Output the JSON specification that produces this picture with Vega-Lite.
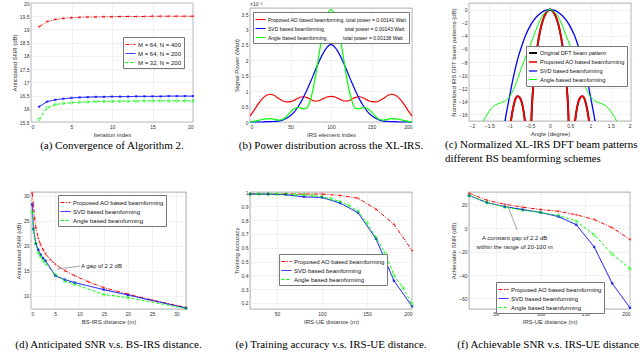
{
"$schema": "https://vega.github.io/schema/vega-lite/v6.json",
"padding": {"left": 0, "top": 0, "right": 0, "bottom": 0},
"background": "white",
"config": {
 "font": "Liberation Sans",
 "view": {"stroke": "#707070", "strokeWidth": 0.6},
 "axis": {"labelFont": "Liberation Sans", "labelFontSize": 5, "labelColor": "#333", "titleFont": "Liberation Sans", "titleFontSize": 6, "titleFontWeight": "normal", "titleColor": "#333", "domain": false, "ticks": false, "labelPadding": 2, "titlePadding": 2, "gridColor": "#e2e2e2", "gridWidth": 0.5},
 "legend": {"labelFont": "Liberation Sans", "labelFontSize": 6, "labelColor": "#111", "fillColor": "white", "strokeColor": "#777", "padding": 2, "rowPadding": 0, "symbolType": "stroke", "symbolSize": 100, "symbolStrokeWidth": 1, "labelOffset": 2},
 "title": {"font": "Liberation Serif", "fontSize": 11, "fontWeight": "normal", "color": "#000", "orient": "bottom", "anchor": "middle", "frame": "group", "offset": 3}
},
"title": {"text": "Fig. 2. Convergence of Algorithm 2, and performance comparison between the proposed AO based beamforming, the SVD based beamforming, and the angle based beamforming.", "anchor": "start", "frame": "group", "offset": 12, "dx": -31, "fontSize": 13},
"columns": 3,
"bounds": "flush",
"spacing": {"row": 70, "column": 57},
"resolve": {"scale": {"color": "independent", "strokeDash": "independent", "strokeWidth": "independent"}, "legend": {"color": "independent", "strokeDash": "independent"}},
"concat": [
{
 "width": 162, "height": 119,
 "title": {"text": "(a) Convergence of Algorithm 2."},
 "data": {"values": [
  {"s":"M = 64, N = 400","x":1,"y":19.10},{"s":"M = 64, N = 400","x":2,"y":19.30},{"s":"M = 64, N = 400","x":3,"y":19.38},{"s":"M = 64, N = 400","x":4,"y":19.42},{"s":"M = 64, N = 400","x":5,"y":19.44},{"s":"M = 64, N = 400","x":6,"y":19.46},{"s":"M = 64, N = 400","x":7,"y":19.47},{"s":"M = 64, N = 400","x":8,"y":19.47},{"s":"M = 64, N = 400","x":9,"y":19.48},{"s":"M = 64, N = 400","x":10,"y":19.48},{"s":"M = 64, N = 400","x":11,"y":19.49},{"s":"M = 64, N = 400","x":12,"y":19.49},{"s":"M = 64, N = 400","x":13,"y":19.49},{"s":"M = 64, N = 400","x":14,"y":19.49},{"s":"M = 64, N = 400","x":15,"y":19.5},{"s":"M = 64, N = 400","x":16,"y":19.5},{"s":"M = 64, N = 400","x":17,"y":19.5},{"s":"M = 64, N = 400","x":18,"y":19.5},{"s":"M = 64, N = 400","x":19,"y":19.5},{"s":"M = 64, N = 400","x":20,"y":19.5},
  {"s":"M = 64, N = 200","x":1,"y":16.08},{"s":"M = 64, N = 200","x":2,"y":16.27},{"s":"M = 64, N = 200","x":3,"y":16.34},{"s":"M = 64, N = 200","x":4,"y":16.38},{"s":"M = 64, N = 200","x":5,"y":16.41},{"s":"M = 64, N = 200","x":6,"y":16.43},{"s":"M = 64, N = 200","x":7,"y":16.44},{"s":"M = 64, N = 200","x":8,"y":16.45},{"s":"M = 64, N = 200","x":9,"y":16.45},{"s":"M = 64, N = 200","x":10,"y":16.46},{"s":"M = 64, N = 200","x":11,"y":16.46},{"s":"M = 64, N = 200","x":12,"y":16.46},{"s":"M = 64, N = 200","x":13,"y":16.47},{"s":"M = 64, N = 200","x":14,"y":16.47},{"s":"M = 64, N = 200","x":15,"y":16.47},{"s":"M = 64, N = 200","x":16,"y":16.47},{"s":"M = 64, N = 200","x":17,"y":16.48},{"s":"M = 64, N = 200","x":18,"y":16.48},{"s":"M = 64, N = 200","x":19,"y":16.48},{"s":"M = 64, N = 200","x":20,"y":16.48},
  {"s":"M = 32, N = 200","x":1,"y":15.60},{"s":"M = 32, N = 200","x":2,"y":16.04},{"s":"M = 32, N = 200","x":3,"y":16.16},{"s":"M = 32, N = 200","x":4,"y":16.20},{"s":"M = 32, N = 200","x":5,"y":16.23},{"s":"M = 32, N = 200","x":6,"y":16.25},{"s":"M = 32, N = 200","x":7,"y":16.26},{"s":"M = 32, N = 200","x":8,"y":16.27},{"s":"M = 32, N = 200","x":9,"y":16.28},{"s":"M = 32, N = 200","x":10,"y":16.28},{"s":"M = 32, N = 200","x":11,"y":16.29},{"s":"M = 32, N = 200","x":12,"y":16.29},{"s":"M = 32, N = 200","x":13,"y":16.29},{"s":"M = 32, N = 200","x":14,"y":16.3},{"s":"M = 32, N = 200","x":15,"y":16.3},{"s":"M = 32, N = 200","x":16,"y":16.3},{"s":"M = 32, N = 200","x":17,"y":16.3},{"s":"M = 32, N = 200","x":18,"y":16.3},{"s":"M = 32, N = 200","x":19,"y":16.3},{"s":"M = 32, N = 200","x":20,"y":16.3}
 ]},
 "encoding": {
  "x": {"field": "x", "type": "quantitative", "scale": {"domain": [0, 20], "nice": false}, "axis": {"title": "Iteration index", "values": [0,5,10,15,20]}},
  "y": {"field": "y", "type": "quantitative", "scale": {"domain": [15.5, 20], "nice": false, "zero": false}, "axis": {"title": "Anticipated SNR (dB)", "values": [15.5,16,16.5,17,17.5,18,18.5,19,19.5,20], "format": "~g"}}
 },
 "layer": [
  {"mark": {"type": "line", "strokeWidth": 1}, "encoding": {
    "color": {"field": "s", "type": "nominal", "scale": {"domain": ["M = 64, N = 400","M = 64, N = 200","M = 32, N = 200"], "range": ["#ff0000","#0000ff","#00ff00"]}, "legend": {"title": null, "orient": "none", "legendX": 92, "legendY": 34}},
    "strokeDash": {"field": "s", "type": "nominal", "scale": {"domain": ["M = 64, N = 400","M = 64, N = 200","M = 32, N = 200"], "range": [[4,1.5,1,1.5],[1,0],[3,2]]}}}},
  {"transform": [{"filter": "datum.s == 'M = 64, N = 400'"}], "mark": {"type": "point", "shape": "M-1,0L1,0M0,-1L0,1", "color": "#ff0000", "size": 8, "strokeWidth": 0.7}},
  {"transform": [{"filter": "datum.s == 'M = 64, N = 200'"}], "mark": {"type": "square", "color": "#0000ff", "size": 5}},
  {"transform": [{"filter": "datum.s == 'M = 32, N = 200'"}], "mark": {"type": "point", "shape": "circle", "color": "#00ff00", "size": 7, "strokeWidth": 0.8}}
 ]
},
{
 "bounds": "flush",
 "spacing": 0,
 "vconcat": [
  {"width": 162, "height": 5, "view": {"stroke": null}, "data": {"values": [{}]}, "mark": {"type": "point", "opacity": 0}, "encoding": {}},
  {
   "width": 162, "height": 114,
   "title": {"text": "(b) Power distribution across the XL-IRS."},
   "layer": [
    {"data": {"values": [
    {"s":"AO","x":0,"y":0.20},{"s":"AO","x":5,"y":0.38},{"s":"AO","x":10,"y":0.58},{"s":"AO","x":15,"y":0.75},{"s":"AO","x":20,"y":0.86},{"s":"AO","x":25,"y":0.90},{"s":"AO","x":30,"y":0.86},{"s":"AO","x":35,"y":0.77},{"s":"AO","x":40,"y":0.69},{"s":"AO","x":45,"y":0.65},{"s":"AO","x":50,"y":0.66},{"s":"AO","x":55,"y":0.71},{"s":"AO","x":60,"y":0.78},{"s":"AO","x":65,"y":0.82},{"s":"AO","x":70,"y":0.80},{"s":"AO","x":75,"y":0.73},{"s":"AO","x":80,"y":0.68},{"s":"AO","x":85,"y":0.69},{"s":"AO","x":90,"y":0.75},{"s":"AO","x":95,"y":0.81},{"s":"AO","x":100,"y":0.83},{"s":"AO","x":105,"y":0.81},{"s":"AO","x":110,"y":0.75},{"s":"AO","x":115,"y":0.69},{"s":"AO","x":120,"y":0.68},{"s":"AO","x":125,"y":0.73},{"s":"AO","x":130,"y":0.80},{"s":"AO","x":135,"y":0.82},{"s":"AO","x":140,"y":0.78},{"s":"AO","x":145,"y":0.71},{"s":"AO","x":150,"y":0.66},{"s":"AO","x":155,"y":0.65},{"s":"AO","x":160,"y":0.69},{"s":"AO","x":165,"y":0.77},{"s":"AO","x":170,"y":0.86},{"s":"AO","x":175,"y":0.90},{"s":"AO","x":180,"y":0.86},{"s":"AO","x":185,"y":0.75},{"s":"AO","x":190,"y":0.58},{"s":"AO","x":195,"y":0.38},{"s":"AO","x":200,"y":0.20},
    {"s":"SVD","x":0,"y":0},{"s":"SVD","x":5,"y":0},{"s":"SVD","x":10,"y":0},{"s":"SVD","x":15,"y":0},{"s":"SVD","x":20,"y":0.01},{"s":"SVD","x":25,"y":0.01},{"s":"SVD","x":30,"y":0.02},{"s":"SVD","x":35,"y":0.03},{"s":"SVD","x":40,"y":0.06},{"s":"SVD","x":45,"y":0.12},{"s":"SVD","x":50,"y":0.21},{"s":"SVD","x":55,"y":0.34},{"s":"SVD","x":60,"y":0.52},{"s":"SVD","x":65,"y":0.75},{"s":"SVD","x":70,"y":1.02},{"s":"SVD","x":75,"y":1.32},{"s":"SVD","x":80,"y":1.64},{"s":"SVD","x":85,"y":1.95},{"s":"SVD","x":90,"y":2.22},{"s":"SVD","x":95,"y":2.42},{"s":"SVD","x":100,"y":2.52},{"s":"SVD","x":105,"y":2.42},{"s":"SVD","x":110,"y":2.22},{"s":"SVD","x":115,"y":1.95},{"s":"SVD","x":120,"y":1.64},{"s":"SVD","x":125,"y":1.32},{"s":"SVD","x":130,"y":1.02},{"s":"SVD","x":135,"y":0.75},{"s":"SVD","x":140,"y":0.52},{"s":"SVD","x":145,"y":0.34},{"s":"SVD","x":150,"y":0.21},{"s":"SVD","x":155,"y":0.12},{"s":"SVD","x":160,"y":0.06},{"s":"SVD","x":165,"y":0.03},{"s":"SVD","x":170,"y":0.02},{"s":"SVD","x":175,"y":0.01},{"s":"SVD","x":180,"y":0.01},{"s":"SVD","x":185,"y":0},{"s":"SVD","x":190,"y":0},{"s":"SVD","x":195,"y":0},{"s":"SVD","x":200,"y":0},
    {"s":"Angle","x":0,"y":0},{"s":"Angle","x":5,"y":0.02},{"s":"Angle","x":10,"y":0.05},{"s":"Angle","x":15,"y":0.08},{"s":"Angle","x":20,"y":0.10},{"s":"Angle","x":25,"y":0.11},{"s":"Angle","x":30,"y":0.09},{"s":"Angle","x":35,"y":0.06},{"s":"Angle","x":40,"y":0.08},{"s":"Angle","x":45,"y":0.18},{"s":"Angle","x":50,"y":0.33},{"s":"Angle","x":55,"y":0.44},{"s":"Angle","x":60,"y":0.47},{"s":"Angle","x":65,"y":0.43},{"s":"Angle","x":70,"y":0.45},{"s":"Angle","x":75,"y":0.75},{"s":"Angle","x":80,"y":1.35},{"s":"Angle","x":85,"y":2.15},{"s":"Angle","x":90,"y":2.95},{"s":"Angle","x":95,"y":3.45},{"s":"Angle","x":100,"y":3.65},{"s":"Angle","x":105,"y":3.45},{"s":"Angle","x":110,"y":2.95},{"s":"Angle","x":115,"y":2.15},{"s":"Angle","x":120,"y":1.35},{"s":"Angle","x":125,"y":0.75},{"s":"Angle","x":130,"y":0.45},{"s":"Angle","x":135,"y":0.43},{"s":"Angle","x":140,"y":0.47},{"s":"Angle","x":145,"y":0.44},{"s":"Angle","x":150,"y":0.33},{"s":"Angle","x":155,"y":0.18},{"s":"Angle","x":160,"y":0.08},{"s":"Angle","x":165,"y":0.06},{"s":"Angle","x":170,"y":0.09},{"s":"Angle","x":175,"y":0.11},{"s":"Angle","x":180,"y":0.10},{"s":"Angle","x":185,"y":0.08},{"s":"Angle","x":190,"y":0.05},{"s":"Angle","x":195,"y":0.02},{"s":"Angle","x":200,"y":0}
    ]},
    "mark": {"type": "line", "strokeWidth": 1.2, "interpolate": "monotone"},
    "encoding": {
     "x": {"field": "x", "type": "quantitative", "scale": {"domain": [0, 200], "nice": false}, "axis": {"title": "IRS element index", "values": [0,50,100,150,200]}},
     "y": {"field": "y", "type": "quantitative", "scale": {"domain": [0, 3.7], "nice": false}, "axis": {"title": "Signal Power (Watt)", "values": [0,0.5,1,1.5,2,2.5,3,3.5], "format": "~g"}},
     "color": {"field": "s", "type": "nominal", "scale": {"domain": ["AO","SVD","Angle"], "range": ["#ff0000","#0000ff","#00ff00"]}, "legend": {"title": null, "orient": "none", "legendX": 3, "legendY": 9, "labelFontSize": 5, "labelExpr": "datum.label == 'AO' ? 'Proposed AO based beamforming, total power = 0.00141 Watt' : datum.label == 'SVD' ? 'SVD based beamforming,\u00a0\u00a0\u00a0\u00a0\u00a0\u00a0\u00a0\u00a0\u00a0\u00a0\u00a0\u00a0\u00a0\u00a0total power = 0.00143 Watt' : 'Angle based beamforming,\u00a0\u00a0\u00a0\u00a0\u00a0\u00a0\u00a0\u00a0\u00a0\u00a0\u00a0total power = 0.00138 Watt'"}}
    }},
    {"data": {"values": [{"t": "×10⁻³"}]}, "mark": {"type": "text", "align": "left", "baseline": "bottom", "dy": -1, "fontSize": 5, "color": "#333"}, "encoding": {
     "x": {"datum": 0, "type": "quantitative", "scale": {"domain": [0, 200], "nice": false}, "axis": {"title": "IRS element index", "values": [0,50,100,150,200]}},
     "y": {"datum": 3.7, "type": "quantitative", "scale": {"domain": [0, 3.7], "nice": false}, "axis": {"title": "Signal Power (Watt)", "values": [0,0.5,1,1.5,2,2.5,3,3.5], "format": "~g"}},
     "text": {"field": "t"}}}
   ]
  }
 ]
},
{
 "width": 162, "height": 118,
 "title": {"text": ["(c) Normalized XL-IRS DFT beam patterns under", "different BS beamforming schemes"], "anchor": "start", "dx": -24, "lineHeight": 14},
 "data": {"values": [
  {"s":"DFT","x":-1.05,"y":-25},{"s":"DFT","x":-1,"y":-19.2},{"s":"DFT","x":-0.95,"y":-16.4},{"s":"DFT","x":-0.9,"y":-14.7},{"s":"DFT","x":-0.85,"y":-13.6},{"s":"DFT","x":-0.8,"y":-13.2},{"s":"DFT","x":-0.75,"y":-13.4},{"s":"DFT","x":-0.7,"y":-14.1},{"s":"DFT","x":-0.65,"y":-15.6},{"s":"DFT","x":-0.6,"y":-18.2},{"s":"DFT","x":-0.55,"y":-22},{"s":"DFT","x":-0.5,"y":-24.5},{"s":"DFT","x":-0.45,"y":-15.3},{"s":"DFT","x":-0.4,"y":-10.6},{"s":"DFT","x":-0.35,"y":-7.49},{"s":"DFT","x":-0.3,"y":-5.19},{"s":"DFT","x":-0.25,"y":-3.45},{"s":"DFT","x":-0.2,"y":-2.14},{"s":"DFT","x":-0.15,"y":-1.17},{"s":"DFT","x":-0.1,"y":-0.51},{"s":"DFT","x":-0.05,"y":-0.13},{"s":"DFT","x":0,"y":0},{"s":"DFT","x":0.05,"y":-0.13},{"s":"DFT","x":0.1,"y":-0.51},{"s":"DFT","x":0.15,"y":-1.17},{"s":"DFT","x":0.2,"y":-2.14},{"s":"DFT","x":0.25,"y":-3.45},{"s":"DFT","x":0.3,"y":-5.19},{"s":"DFT","x":0.35,"y":-7.49},{"s":"DFT","x":0.4,"y":-10.6},{"s":"DFT","x":0.45,"y":-15.3},{"s":"DFT","x":0.5,"y":-24.5},{"s":"DFT","x":0.55,"y":-22},{"s":"DFT","x":0.6,"y":-18.2},{"s":"DFT","x":0.65,"y":-15.6},{"s":"DFT","x":0.7,"y":-14.1},{"s":"DFT","x":0.75,"y":-13.4},{"s":"DFT","x":0.8,"y":-13.2},{"s":"DFT","x":0.85,"y":-13.6},{"s":"DFT","x":0.9,"y":-14.7},{"s":"DFT","x":0.95,"y":-16.4},{"s":"DFT","x":1,"y":-19.2},{"s":"DFT","x":1.05,"y":-25},
  {"s":"AO","x":-1.05,"y":-25},{"s":"AO","x":-1,"y":-19.2},{"s":"AO","x":-0.95,"y":-16.4},{"s":"AO","x":-0.9,"y":-14.7},{"s":"AO","x":-0.85,"y":-13.6},{"s":"AO","x":-0.8,"y":-13.2},{"s":"AO","x":-0.75,"y":-13.4},{"s":"AO","x":-0.7,"y":-14.1},{"s":"AO","x":-0.65,"y":-15.6},{"s":"AO","x":-0.6,"y":-18.2},{"s":"AO","x":-0.55,"y":-22},{"s":"AO","x":-0.5,"y":-24.5},{"s":"AO","x":-0.45,"y":-15.3},{"s":"AO","x":-0.4,"y":-10.6},{"s":"AO","x":-0.35,"y":-7.49},{"s":"AO","x":-0.3,"y":-5.19},{"s":"AO","x":-0.25,"y":-3.45},{"s":"AO","x":-0.2,"y":-2.14},{"s":"AO","x":-0.15,"y":-1.17},{"s":"AO","x":-0.1,"y":-0.51},{"s":"AO","x":-0.05,"y":-0.13},{"s":"AO","x":0,"y":0},{"s":"AO","x":0.05,"y":-0.13},{"s":"AO","x":0.1,"y":-0.51},{"s":"AO","x":0.15,"y":-1.17},{"s":"AO","x":0.2,"y":-2.14},{"s":"AO","x":0.25,"y":-3.45},{"s":"AO","x":0.3,"y":-5.19},{"s":"AO","x":0.35,"y":-7.49},{"s":"AO","x":0.4,"y":-10.6},{"s":"AO","x":0.45,"y":-15.3},{"s":"AO","x":0.5,"y":-24.5},{"s":"AO","x":0.55,"y":-22},{"s":"AO","x":0.6,"y":-18.2},{"s":"AO","x":0.65,"y":-15.6},{"s":"AO","x":0.7,"y":-14.1},{"s":"AO","x":0.75,"y":-13.4},{"s":"AO","x":0.8,"y":-13.2},{"s":"AO","x":0.85,"y":-13.6},{"s":"AO","x":0.9,"y":-14.7},{"s":"AO","x":0.95,"y":-16.4},{"s":"AO","x":1,"y":-19.2},{"s":"AO","x":1.05,"y":-25},
  {"s":"SVD","x":-1.2,"y":-21},{"s":"SVD","x":-1.1,"y":-16.6},{"s":"SVD","x":-1,"y":-13.3},{"s":"SVD","x":-0.9,"y":-10.2},{"s":"SVD","x":-0.8,"y":-7.6},{"s":"SVD","x":-0.7,"y":-5.6},{"s":"SVD","x":-0.6,"y":-3.9},{"s":"SVD","x":-0.5,"y":-2.6},{"s":"SVD","x":-0.4,"y":-1.6},{"s":"SVD","x":-0.3,"y":-0.9},{"s":"SVD","x":-0.2,"y":-0.4},{"s":"SVD","x":-0.1,"y":-0.1},{"s":"SVD","x":0,"y":0},{"s":"SVD","x":0.1,"y":-0.1},{"s":"SVD","x":0.2,"y":-0.4},{"s":"SVD","x":0.3,"y":-0.9},{"s":"SVD","x":0.4,"y":-1.6},{"s":"SVD","x":0.5,"y":-2.6},{"s":"SVD","x":0.6,"y":-3.9},{"s":"SVD","x":0.7,"y":-5.6},{"s":"SVD","x":0.8,"y":-7.6},{"s":"SVD","x":0.9,"y":-10.2},{"s":"SVD","x":1,"y":-13.3},{"s":"SVD","x":1.1,"y":-16.6},{"s":"SVD","x":1.2,"y":-21},
  {"s":"Angle","x":-1.8,"y":-19},{"s":"Angle","x":-1.7,"y":-17.6},{"s":"Angle","x":-1.6,"y":-16.5},{"s":"Angle","x":-1.5,"y":-15.5},{"s":"Angle","x":-1.4,"y":-14.8},{"s":"Angle","x":-1.3,"y":-14.4},{"s":"Angle","x":-1.2,"y":-14.2},{"s":"Angle","x":-1.1,"y":-13.9},{"s":"Angle","x":-1,"y":-13.3},{"s":"Angle","x":-0.9,"y":-12.2},{"s":"Angle","x":-0.8,"y":-10.6},{"s":"Angle","x":-0.7,"y":-8.8},{"s":"Angle","x":-0.6,"y":-7.2},{"s":"Angle","x":-0.5,"y":-5.6},{"s":"Angle","x":-0.4,"y":-4.0},{"s":"Angle","x":-0.3,"y":-2.4},{"s":"Angle","x":-0.2,"y":-1.1},{"s":"Angle","x":-0.1,"y":-0.3},{"s":"Angle","x":0,"y":0},{"s":"Angle","x":0.1,"y":-0.3},{"s":"Angle","x":0.2,"y":-1.1},{"s":"Angle","x":0.3,"y":-2.4},{"s":"Angle","x":0.4,"y":-4.0},{"s":"Angle","x":0.5,"y":-5.6},{"s":"Angle","x":0.6,"y":-7.2},{"s":"Angle","x":0.7,"y":-8.8},{"s":"Angle","x":0.8,"y":-10.6},{"s":"Angle","x":0.9,"y":-12.2},{"s":"Angle","x":1,"y":-13.3},{"s":"Angle","x":1.1,"y":-13.9},{"s":"Angle","x":1.2,"y":-14.2},{"s":"Angle","x":1.3,"y":-14.4},{"s":"Angle","x":1.4,"y":-14.8},{"s":"Angle","x":1.5,"y":-15.5},{"s":"Angle","x":1.6,"y":-16.5},{"s":"Angle","x":1.7,"y":-17.6},{"s":"Angle","x":1.8,"y":-19}
 ]},
 "mark": {"type": "line", "interpolate": "monotone", "clip": true},
 "encoding": {
  "x": {"field": "x", "type": "quantitative", "scale": {"domain": [-2, 2], "nice": false}, "axis": {"title": "Angle (degree)", "values": [-2,-1.5,-1,-0.5,0,0.5,1,1.5,2], "format": "~g"}},
  "y": {"field": "y", "type": "quantitative", "scale": {"domain": [-17, 1], "nice": false}, "axis": {"title": "Normalized IRS DFT beam patterns (dB)", "values": [0,-2,-4,-6,-8,-10,-12,-14,-16], "format": "~g"}},
  "color": {"field": "s", "type": "nominal", "scale": {"domain": ["DFT","AO","SVD","Angle"], "range": ["#000000","#ff0000","#0000ff","#00ff00"]}, "legend": {"title": null, "orient": "none", "legendX": 57, "legendY": 43, "labelFontSize": 5.6, "symbolSize": 64, "labelExpr": "datum.label == 'DFT' ? 'Original DFT beam pattern' : datum.label == 'AO' ? 'Proposed AO based beamforming' : datum.label == 'SVD' ? 'SVD based beamforming' : 'Angle based beamforming'"}},
  "strokeWidth": {"field": "s", "type": "nominal", "scale": {"domain": ["DFT","AO","SVD","Angle"], "range": [1.9, 1.0, 1.2, 1.2]}, "legend": null}
 }
},
{
 "width": 155, "height": 117,
 "title": {"text": "(d) Anticipated SNR v.s. BS-IRS distance.", "offset": 15},
 "layer": [
  {"data": {"name": "d"}, "mark": {"type": "line", "strokeWidth": 1}, "encoding": {
    "x": {"field": "x", "type": "quantitative", "scale": {"domain": [0, 32], "nice": false}, "axis": {"title": "BS-IRS distance (m)", "values": [0,5,10,15,20,25,30]}},
    "y": {"field": "y", "type": "quantitative", "scale": {"domain": [7.3, 30.8], "nice": false, "zero": false}, "axis": {"title": "Anticipated SNR (dB)", "values": [10,15,20,25,30]}},
    "color": {"field": "s", "type": "nominal", "scale": {"domain": ["AO","SVD","Angle"], "range": ["#ff0000","#0000ff","#00ff00"]}, "legend": {"title": null, "orient": "none", "legendX": 27, "legendY": 3, "labelExpr": "datum.label == 'AO' ? 'Proposed AO based beamforming' : datum.label == 'SVD' ? 'SVD based beamforming' : 'Angle based beamforming'"}},
    "strokeDash": {"field": "s", "type": "nominal", "scale": {"domain": ["AO","SVD","Angle"], "range": [[4,1.5,1,1.5],[1,0],[3,2]]}}}},
  {"data": {"name": "d"}, "transform": [{"filter": "datum.s == 'AO'"}], "mark": {"type": "point", "shape": "M-1,0L1,0M0,-1L0,1", "color": "#ff0000", "size": 8, "strokeWidth": 0.7}, "encoding": {"x": {"field": "x", "type": "quantitative", "scale": {"domain": [0, 32], "nice": false}, "axis": {"title": "BS-IRS distance (m)", "values": [0,5,10,15,20,25,30]}}, "y": {"field": "y", "type": "quantitative", "scale": {"domain": [7.3, 30.8], "nice": false, "zero": false}, "axis": {"title": "Anticipated SNR (dB)", "values": [10,15,20,25,30]}}}},
  {"data": {"name": "d"}, "transform": [{"filter": "datum.s == 'SVD'"}], "mark": {"type": "square", "color": "#0000ff", "size": 6}, "encoding": {"x": {"field": "x", "type": "quantitative", "scale": {"domain": [0, 32], "nice": false}, "axis": {"title": "BS-IRS distance (m)", "values": [0,5,10,15,20,25,30]}}, "y": {"field": "y", "type": "quantitative", "scale": {"domain": [7.3, 30.8], "nice": false, "zero": false}, "axis": {"title": "Anticipated SNR (dB)", "values": [10,15,20,25,30]}}}},
  {"data": {"name": "d"}, "transform": [{"filter": "datum.s == 'Angle'"}], "mark": {"type": "point", "shape": "circle", "color": "#00ff00", "size": 8, "strokeWidth": 0.8}, "encoding": {"x": {"field": "x", "type": "quantitative", "scale": {"domain": [0, 32], "nice": false}, "axis": {"title": "BS-IRS distance (m)", "values": [0,5,10,15,20,25,30]}}, "y": {"field": "y", "type": "quantitative", "scale": {"domain": [7.3, 30.8], "nice": false, "zero": false}, "axis": {"title": "Anticipated SNR (dB)", "values": [10,15,20,25,30]}}}},
  {"data": {"values": [{"t": "A gap of 2.2 dB"}]}, "mark": {"type": "rule", "color": "#444", "strokeWidth": 0.5}, "encoding": {"x": {"datum": 10.1, "type": "quantitative", "scale": {"domain": [0, 32], "nice": false}, "axis": {"title": "BS-IRS distance (m)", "values": [0,5,10,15,20,25,30]}}, "y": {"datum": 15.9, "type": "quantitative", "scale": {"domain": [7.3, 30.8], "nice": false, "zero": false}, "axis": {"title": "Anticipated SNR (dB)", "values": [10,15,20,25,30]}}, "x2": {"datum": 5.4}, "y2": {"datum": 15.3}}},
  {"data": {"values": [{"t": "A gap of 2.2 dB"}]}, "mark": {"type": "text", "align": "left", "baseline": "middle", "dx": 1, "fontSize": 6, "color": "#222"}, "encoding": {"x": {"datum": 10.1, "type": "quantitative", "scale": {"domain": [0, 32], "nice": false}, "axis": {"title": "BS-IRS distance (m)", "values": [0,5,10,15,20,25,30]}}, "y": {"datum": 15.9, "type": "quantitative", "scale": {"domain": [7.3, 30.8], "nice": false, "zero": false}, "axis": {"title": "Anticipated SNR (dB)", "values": [10,15,20,25,30]}}, "text": {"field": "t"}}}
 ]
},
{
 "width": 162, "height": 117,
 "title": {"text": "(e) Training accuracy v.s. IRS-UE distance.", "offset": 15},
 "data": {"values": [
  {"s":"AO","x":20,"y":0.99},{"s":"AO","x":40,"y":0.99},{"s":"AO","x":60,"y":0.99},{"s":"AO","x":80,"y":0.99},{"s":"AO","x":100,"y":0.99},{"s":"AO","x":120,"y":0.98},{"s":"AO","x":140,"y":0.96},{"s":"AO","x":160,"y":0.88},{"s":"AO","x":180,"y":0.77},{"s":"AO","x":200,"y":0.58},
  {"s":"SVD","x":20,"y":0.99},{"s":"SVD","x":40,"y":0.99},{"s":"SVD","x":60,"y":0.985},{"s":"SVD","x":80,"y":0.97},{"s":"SVD","x":100,"y":0.965},{"s":"SVD","x":120,"y":0.925},{"s":"SVD","x":140,"y":0.855},{"s":"SVD","x":160,"y":0.665},{"s":"SVD","x":180,"y":0.36},{"s":"SVD","x":200,"y":0.175},
  {"s":"Angle","x":20,"y":0.99},{"s":"Angle","x":30,"y":0.99},{"s":"Angle","x":40,"y":0.99},{"s":"Angle","x":50,"y":0.99},{"s":"Angle","x":60,"y":0.99},{"s":"Angle","x":70,"y":0.985},{"s":"Angle","x":80,"y":0.985},{"s":"Angle","x":90,"y":0.98},{"s":"Angle","x":100,"y":0.97},{"s":"Angle","x":110,"y":0.955},{"s":"Angle","x":120,"y":0.935},{"s":"Angle","x":130,"y":0.905},{"s":"Angle","x":140,"y":0.865},{"s":"Angle","x":150,"y":0.78},{"s":"Angle","x":160,"y":0.675},{"s":"Angle","x":170,"y":0.56},{"s":"Angle","x":180,"y":0.40},{"s":"Angle","x":190,"y":0.31},{"s":"Angle","x":200,"y":0.19}
 ]},
 "encoding": {
  "x": {"field": "x", "type": "quantitative", "scale": {"domain": [20, 200], "nice": false}, "axis": {"title": "IRS-UE distance (m)", "values": [50,100,150,200]}},
  "y": {"field": "y", "type": "quantitative", "scale": {"domain": [0.155, 1.005], "nice": false, "zero": false}, "axis": {"title": "Training accuracy", "values": [0.2,0.3,0.4,0.5,0.6,0.7,0.8,0.9,1], "format": "~g"}}
 },
 "layer": [
  {"mark": {"type": "line", "strokeWidth": 1}, "encoding": {
    "color": {"field": "s", "type": "nominal", "scale": {"domain": ["AO","SVD","Angle"], "range": ["#ff0000","#0000ff","#00ff00"]}, "legend": {"title": null, "orient": "none", "legendX": 29, "legendY": 62, "labelExpr": "datum.label == 'AO' ? 'Proposed AO based beamforming' : datum.label == 'SVD' ? 'SVD based beamforming' : 'Angle based beamforming'"}},
    "strokeDash": {"field": "s", "type": "nominal", "scale": {"domain": ["AO","SVD","Angle"], "range": [[4,1.5,1,1.5],[1,0],[3,2]]}}}},
  {"transform": [{"filter": "datum.s == 'AO'"}], "mark": {"type": "point", "shape": "M-1,0L1,0M0,-1L0,1", "color": "#ff0000", "size": 8, "strokeWidth": 0.7}},
  {"transform": [{"filter": "datum.s == 'SVD'"}], "mark": {"type": "square", "color": "#0000ff", "size": 6}},
  {"transform": [{"filter": "datum.s == 'Angle'"}], "mark": {"type": "point", "shape": "circle", "color": "#00ff00", "size": 8, "strokeWidth": 0.8}}
 ]
},
{
 "width": 161, "height": 117,
 "title": {"text": "(f) Achievable SNR v.s. IRS-UE distance.", "offset": 15},
 "layer": [
  {"data": {"name": "f"}, "mark": {"type": "line", "strokeWidth": 1}, "encoding": {
    "x": {"field": "x", "type": "quantitative", "scale": {"domain": [20, 200], "nice": false}, "axis": {"title": "IRS-UE distance (m)", "values": [50,100,150,200]}},
    "y": {"field": "y", "type": "quantitative", "scale": {"domain": [-69, 31], "nice": false, "zero": false}, "axis": {"title": "Achievable SNR (dB)", "values": [-60,-40,-20,0,20]}},
    "color": {"field": "s", "type": "nominal", "scale": {"domain": ["AO","SVD","Angle"], "range": ["#ff0000","#0000ff","#00ff00"]}, "legend": {"title": null, "orient": "none", "legendX": 27, "legendY": 90, "labelExpr": "datum.label == 'AO' ? 'Proposed AO based beamforming' : datum.label == 'SVD' ? 'SVD based beamforming' : 'Angle based beamforming'"}},
    "strokeDash": {"field": "s", "type": "nominal", "scale": {"domain": ["AO","SVD","Angle"], "range": [[4,1.5,1,1.5],[1,0],[3,2]]}}}},
  {"data": {"name": "f"}, "transform": [{"filter": "datum.s == 'AO'"}], "mark": {"type": "point", "shape": "M-1,0L1,0M0,-1L0,1", "color": "#ff0000", "size": 8, "strokeWidth": 0.7}, "encoding": {"x": {"field": "x", "type": "quantitative", "scale": {"domain": [20, 200], "nice": false}, "axis": {"title": "IRS-UE distance (m)", "values": [50,100,150,200]}}, "y": {"field": "y", "type": "quantitative", "scale": {"domain": [-69, 31], "nice": false, "zero": false}, "axis": {"title": "Achievable SNR (dB)", "values": [-60,-40,-20,0,20]}}}},
  {"data": {"name": "f"}, "transform": [{"filter": "datum.s == 'SVD'"}], "mark": {"type": "square", "color": "#0000ff", "size": 6}, "encoding": {"x": {"field": "x", "type": "quantitative", "scale": {"domain": [20, 200], "nice": false}, "axis": {"title": "IRS-UE distance (m)", "values": [50,100,150,200]}}, "y": {"field": "y", "type": "quantitative", "scale": {"domain": [-69, 31], "nice": false, "zero": false}, "axis": {"title": "Achievable SNR (dB)", "values": [-60,-40,-20,0,20]}}}},
  {"data": {"name": "f"}, "transform": [{"filter": "datum.s == 'Angle'"}], "mark": {"type": "point", "shape": "circle", "color": "#00ff00", "size": 8, "strokeWidth": 0.8}, "encoding": {"x": {"field": "x", "type": "quantitative", "scale": {"domain": [20, 200], "nice": false}, "axis": {"title": "IRS-UE distance (m)", "values": [50,100,150,200]}}, "y": {"field": "y", "type": "quantitative", "scale": {"domain": [-69, 31], "nice": false, "zero": false}, "axis": {"title": "Achievable SNR (dB)", "values": [-60,-40,-20,0,20]}}}},
  {"data": {"values": [{"t": "arrow"}]}, "mark": {"type": "rule", "color": "#444", "strokeWidth": 0.5}, "encoding": {"x": {"datum": 73.7, "type": "quantitative", "scale": {"domain": [20, 200], "nice": false}, "axis": {"title": "IRS-UE distance (m)", "values": [50,100,150,200]}}, "y": {"datum": -1.4, "type": "quantitative", "scale": {"domain": [-69, 31], "nice": false, "zero": false}, "axis": {"title": "Achievable SNR (dB)", "values": [-60,-40,-20,0,20]}}, "x2": {"datum": 64.4}, "y2": {"datum": 17.1}}},
  {"data": {"values": [{"t": ["A constant gap of 2.2 dB", "within the range of 20-100 m"]}]}, "mark": {"type": "text", "align": "center", "baseline": "middle", "lineHeight": 9.7, "fontSize": 6, "color": "#222"}, "encoding": {"x": {"datum": 71, "type": "quantitative", "scale": {"domain": [20, 200], "nice": false}, "axis": {"title": "IRS-UE distance (m)", "values": [50,100,150,200]}}, "y": {"datum": -7.9, "type": "quantitative", "scale": {"domain": [-69, 31], "nice": false, "zero": false}, "axis": {"title": "Achievable SNR (dB)", "values": [-60,-40,-20,0,20]}}, "text": {"field": "t"}}}
 ]
}
],
"datasets": {
 "d": [
  {"s":"AO","x":0.25,"y":30.6},{"s":"AO","x":0.5,"y":28.0},{"s":"AO","x":0.75,"y":25.6},{"s":"AO","x":1,"y":23.6},{"s":"AO","x":1.5,"y":21.5},{"s":"AO","x":2,"y":20.2},{"s":"AO","x":2.5,"y":19.2},{"s":"AO","x":3,"y":18.4},{"s":"AO","x":4,"y":17.2},{"s":"AO","x":5,"y":16.3},{"s":"AO","x":7,"y":15.0},{"s":"AO","x":9,"y":14.0},{"s":"AO","x":12,"y":12.7},{"s":"AO","x":15,"y":11.6},{"s":"AO","x":20,"y":10.3},{"s":"AO","x":25,"y":9.1},{"s":"AO","x":32,"y":7.6},
  {"s":"SVD","x":0.25,"y":28.3},{"s":"SVD","x":0.5,"y":23.4},{"s":"SVD","x":1,"y":20.4},{"s":"SVD","x":1.5,"y":19.2},{"s":"SVD","x":2,"y":18.2},{"s":"SVD","x":2.5,"y":17.5},{"s":"SVD","x":3,"y":17.0},{"s":"SVD","x":5,"y":14.0},{"s":"SVD","x":7,"y":13.2},{"s":"SVD","x":9,"y":12.6},{"s":"SVD","x":15,"y":11.2},{"s":"SVD","x":20,"y":10.1},{"s":"SVD","x":32,"y":7.5},
  {"s":"Angle","x":0.25,"y":26.8},{"s":"Angle","x":0.5,"y":23.2},{"s":"Angle","x":1,"y":20.5},{"s":"Angle","x":1.5,"y":18.6},{"s":"Angle","x":2,"y":17.8},{"s":"Angle","x":2.5,"y":17.0},{"s":"Angle","x":3,"y":16.4},{"s":"Angle","x":5,"y":14.2},{"s":"Angle","x":7,"y":12.9},{"s":"Angle","x":9,"y":12.3},{"s":"Angle","x":15,"y":10.2},{"s":"Angle","x":20,"y":9.6},{"s":"Angle","x":32,"y":7.4}
 ],
 "f": [
  {"s":"AO","x":20,"y":30},{"s":"AO","x":40,"y":24},{"s":"AO","x":60,"y":20.5},{"s":"AO","x":80,"y":18},{"s":"AO","x":100,"y":16},{"s":"AO","x":120,"y":14.5},{"s":"AO","x":140,"y":11.5},{"s":"AO","x":160,"y":7.5},{"s":"AO","x":180,"y":0.5},{"s":"AO","x":200,"y":-9.5},
  {"s":"SVD","x":20,"y":28},{"s":"SVD","x":40,"y":22},{"s":"SVD","x":60,"y":18.5},{"s":"SVD","x":80,"y":16},{"s":"SVD","x":100,"y":13.5},{"s":"SVD","x":120,"y":10},{"s":"SVD","x":140,"y":3},{"s":"SVD","x":160,"y":-16},{"s":"SVD","x":180,"y":-47},{"s":"SVD","x":200,"y":-68},
  {"s":"Angle","x":20,"y":28},{"s":"Angle","x":40,"y":22},{"s":"Angle","x":60,"y":18},{"s":"Angle","x":80,"y":15.5},{"s":"Angle","x":100,"y":13.5},{"s":"Angle","x":120,"y":11},{"s":"Angle","x":140,"y":6},{"s":"Angle","x":160,"y":-5.5},{"s":"Angle","x":180,"y":-22},{"s":"Angle","x":200,"y":-34.5}
 ]
}
}
